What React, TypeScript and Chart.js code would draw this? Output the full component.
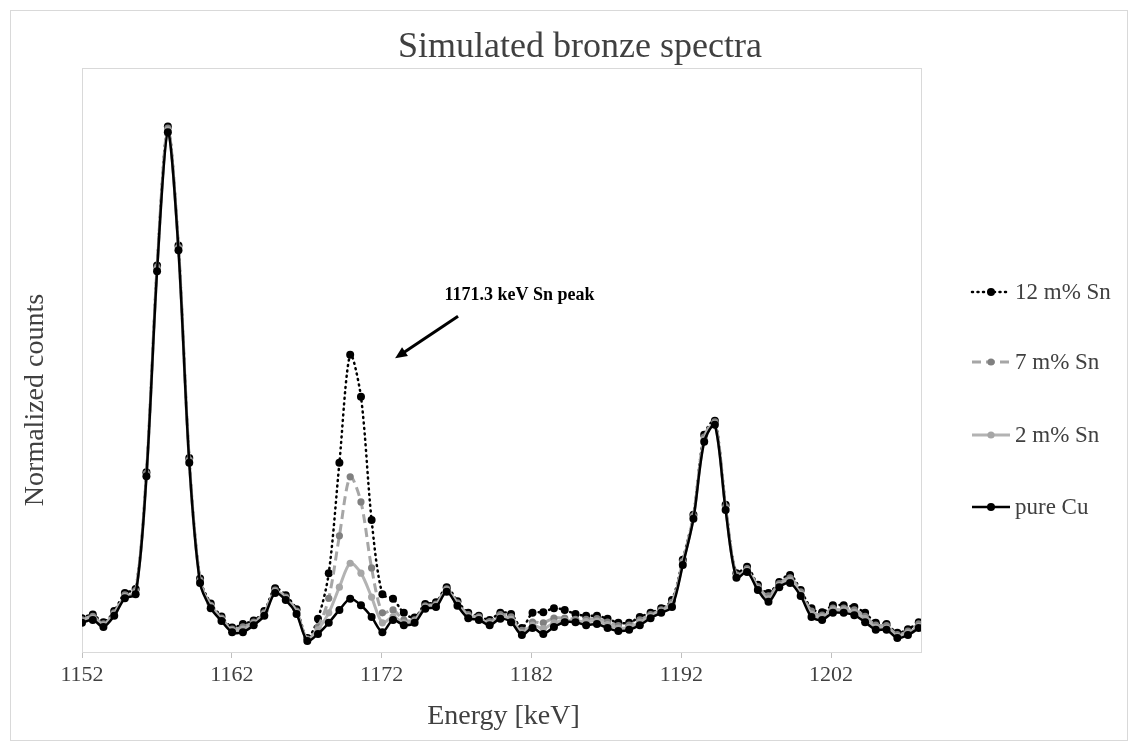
import React, { useEffect, useRef } from 'react';
import { Chart, registerables } from 'chart.js';

Chart.register(...registerables);

const ENERGY_KEV = [
  1152.0, 1152.72, 1153.43, 1154.15, 1154.86, 1155.58, 1156.3, 1157.01, 1157.73, 1158.44,
  1159.16, 1159.88, 1160.59, 1161.31, 1162.02, 1162.74, 1163.46, 1164.17, 1164.89, 1165.6,
  1166.32, 1167.04, 1167.75, 1168.47, 1169.18, 1169.9, 1170.62, 1171.33, 1172.05, 1172.76,
  1173.48, 1174.2, 1174.91, 1175.63, 1176.34, 1177.06, 1177.78, 1178.49, 1179.21, 1179.92,
  1180.64, 1181.36, 1182.07, 1182.79, 1183.5, 1184.22, 1184.94, 1185.65, 1186.37, 1187.08,
  1187.8, 1188.52, 1189.23, 1189.95, 1190.66, 1191.38, 1192.1, 1192.81, 1193.53, 1194.24,
  1194.96, 1195.68, 1196.39, 1197.11, 1197.82, 1198.54, 1199.26, 1199.97, 1200.69, 1201.4,
  1202.12, 1202.84, 1203.55, 1204.27, 1204.98, 1205.7, 1206.42, 1207.13, 1207.85,
];

const PURE_CU = [
  5.0, 5.5, 4.3, 6.2, 9.2, 9.9, 30.1, 65.2, 89.0, 68.8,
  32.4, 11.8, 7.5, 5.3, 3.4, 3.4, 4.6, 6.2, 10.1, 8.9,
  6.5, 1.9, 3.1, 5.0, 7.2, 9.1, 8.0, 6.0, 3.4, 5.5,
  4.6, 5.0, 7.4, 7.7, 10.3, 7.9, 5.8, 5.5, 4.6, 5.7,
  5.1, 2.9, 4.1, 3.1, 4.3, 5.1, 5.1, 4.6, 4.8, 4.1,
  3.6, 3.8, 4.6, 5.8, 6.7, 7.7, 14.9, 22.8, 36.0, 38.9,
  24.3, 12.7, 13.7, 10.6, 8.6, 11.1, 11.8, 9.6, 6.0, 5.5,
  6.7, 6.7, 6.3, 5.1, 3.8, 3.8, 2.4, 2.9, 4.1,
];

const SN_2 = [
  5.3, 5.8, 4.6, 6.5, 9.5, 10.2, 30.3, 65.6, 89.4, 69.1,
  32.7, 12.1, 7.8, 5.6, 3.7, 3.9, 4.9, 6.5, 10.4, 9.2,
  6.8, 2.1, 3.8, 6.7, 11.1, 15.2, 13.5, 9.4, 5.0, 6.0,
  5.0, 5.3, 7.7, 8.0, 10.6, 8.2, 6.1, 5.8, 4.9, 6.0,
  5.6, 3.3, 4.6, 4.0, 5.0, 5.4, 5.3, 5.2, 5.3, 4.7,
  4.1, 4.2, 5.1, 6.1, 7.0, 8.1, 15.2, 23.0, 36.4, 39.1,
  24.6, 12.9, 14.0, 10.9, 9.1, 11.4, 12.3, 9.9, 6.5, 6.0,
  7.2, 7.2, 6.8, 5.7, 4.2, 4.1, 2.7, 3.3, 4.4,
];

const SN_7 = [
  5.5, 6.1, 4.8, 6.7, 9.8, 10.5, 30.6, 65.9, 89.7, 69.3,
  32.9, 12.3, 8.0, 5.8, 3.9, 4.3, 5.1, 6.7, 10.6, 9.4,
  7.0, 2.2, 4.3, 9.2, 19.9, 30.0, 25.7, 14.4, 6.7, 7.2,
  5.5, 5.5, 7.9, 8.2, 10.8, 8.4, 6.4, 6.0, 5.2, 6.4,
  6.0, 3.7, 5.1, 5.0, 5.8, 5.8, 5.6, 5.6, 5.7, 5.1,
  4.5, 4.6, 5.5, 6.4, 7.2, 8.5, 15.5, 23.3, 36.8, 39.4,
  24.9, 13.2, 14.3, 11.2, 9.6, 11.7, 12.7, 10.3, 7.0, 6.3,
  7.5, 7.5, 7.2, 6.1, 4.6, 4.5, 3.0, 3.6, 4.8,
];

const SN_12 = [
  5.8, 6.4, 5.1, 7.0, 10.1, 10.8, 30.8, 66.2, 90.0, 69.6,
  33.2, 12.6, 8.3, 6.1, 4.2, 4.8, 5.4, 7.0, 10.9, 9.7,
  7.3, 2.4, 5.7, 13.5, 32.4, 50.9, 43.7, 22.6, 9.9, 9.1,
  6.7, 5.9, 8.2, 8.5, 11.1, 8.7, 6.7, 6.2, 5.5, 6.7,
  6.5, 4.1, 6.7, 6.8, 7.5, 7.2, 6.5, 6.2, 6.2, 5.7,
  5.0, 5.0, 6.0, 6.7, 7.5, 8.9, 15.8, 23.5, 37.2, 39.6,
  25.2, 13.5, 14.6, 11.5, 10.1, 12.0, 13.2, 10.6, 7.5, 6.8,
  8.0, 8.0, 7.7, 6.7, 5.0, 4.8, 3.3, 3.9, 5.1,
];

const X_TICKS = [1152, 1162, 1172, 1182, 1192, 1202];
const SERIES_LABELS = ['12 m% Sn', '7 m% Sn', '2 m% Sn', 'pure Cu'];
const TITLE = 'Simulated bronze spectra';
const X_TITLE = 'Energy [keV]';
const Y_TITLE = 'Normalized counts';
const ANNOTATION = '1171.3 keV Sn peak';

const FONT = '"Liberation Serif", "Times New Roman", serif';
const TEXT = '#404040';

type Style = {
  line: string;
  width: number;
  dash: number[];
  point: string;
  radius: number;
  cap: CanvasLineCap;
};

const STYLES: Record<string, Style> = {
  '12 m% Sn': { line: '#000000', width: 2.5, dash: [1, 4.5], point: '#000000', radius: 4, cap: 'round' },
  '7 m% Sn': { line: '#a6a6a6', width: 3, dash: [9, 5], point: '#808080', radius: 3.6, cap: 'butt' },
  '2 m% Sn': { line: '#b3b3b3', width: 3, dash: [], point: '#a6a6a6', radius: 3.6, cap: 'butt' },
  'pure Cu': { line: '#000000', width: 2.5, dash: [], point: '#000000', radius: 4, cap: 'butt' },
};

function makeDataset(label: string, values: number[]) {
  const s = STYLES[label];
  return {
    label,
    data: ENERGY_KEV.map((e, i) => ({ x: e, y: values[i] })),
    borderColor: s.line,
    borderWidth: s.width,
    borderDash: s.dash,
    borderCapStyle: s.cap,
    pointRadius: s.radius,
    pointBackgroundColor: s.point,
    pointBorderColor: s.point,
    pointBorderWidth: 0,
    tension: 0.3,
    fill: false,
  };
}

const decorPlugin = {
  id: 'decor',
  beforeDatasetsDraw(chart: any) {
    const { ctx, chartArea } = chart;
    ctx.save();
    ctx.strokeStyle = '#d9d9d9';
    ctx.lineWidth = 1;
    ctx.strokeRect(
      Math.round(chartArea.left) + 0.5,
      Math.round(chartArea.top) + 0.5,
      Math.round(chartArea.right - chartArea.left),
      Math.round(chartArea.bottom - chartArea.top)
    );
    ctx.restore();
  },
  afterDraw(chart: any) {
    const { ctx, chartArea } = chart;
    const xs = chart.scales.x;
    const ys = chart.scales.y;
    ctx.save();
    // outer border
    ctx.strokeStyle = '#d9d9d9';
    ctx.lineWidth = 1;
    ctx.strokeRect(10.5, 10.5, 1117, 730);

    // title
    ctx.fillStyle = TEXT;
    ctx.textAlign = 'center';
    ctx.textBaseline = 'alphabetic';
    ctx.font = `36px ${FONT}`;
    ctx.fillText(TITLE, 580, 57);

    // x title
    ctx.font = `28px ${FONT}`;
    ctx.textBaseline = 'middle';
    ctx.fillText(X_TITLE, (chartArea.left + chartArea.right) / 2 + 2, 717);

    // y title
    ctx.save();
    ctx.translate(36, 400);
    ctx.rotate(-Math.PI / 2);
    ctx.fillText(Y_TITLE, 0, 0);
    ctx.restore();

    // legend
    const legendY = [292, 362, 435, 507];
    SERIES_LABELS.forEach((label, i) => {
      const s = STYLES[label];
      const y = legendY[i];
      ctx.save();
      ctx.strokeStyle = s.line;
      ctx.lineWidth = s.width;
      ctx.setLineDash(s.dash);
      ctx.lineCap = s.cap;
      ctx.beginPath();
      ctx.moveTo(972, y);
      ctx.lineTo(1010, y);
      ctx.stroke();
      ctx.setLineDash([]);
      ctx.fillStyle = s.point;
      ctx.beginPath();
      ctx.arc(991, y, s.radius, 0, Math.PI * 2);
      ctx.fill();
      ctx.restore();
      ctx.fillStyle = TEXT;
      ctx.textAlign = 'left';
      ctx.textBaseline = 'middle';
      ctx.font = `23px ${FONT}`;
      ctx.fillText(label, 1015, y + 1);
    });

    // annotation
    ctx.fillStyle = '#000000';
    ctx.textAlign = 'center';
    ctx.textBaseline = 'middle';
    ctx.font = `bold 18px ${FONT}`;
    ctx.fillText(ANNOTATION, xs.getPixelForValue(1181.2), ys.getPixelForValue(61.1));

    const x1 = xs.getPixelForValue(1177.1);
    const y1 = ys.getPixelForValue(57.5);
    const x2 = xs.getPixelForValue(1172.9);
    const y2 = ys.getPixelForValue(50.3);
    const ang = Math.atan2(y2 - y1, x2 - x1);
    const head = 13;
    ctx.strokeStyle = '#000000';
    ctx.lineWidth = 3;
    ctx.beginPath();
    ctx.moveTo(x1, y1);
    ctx.lineTo(x2 - Math.cos(ang) * head * 0.8, y2 - Math.sin(ang) * head * 0.8);
    ctx.stroke();
    ctx.fillStyle = '#000000';
    ctx.beginPath();
    ctx.moveTo(x2, y2);
    ctx.lineTo(x2 - head * Math.cos(ang - 0.42), y2 - head * Math.sin(ang - 0.42));
    ctx.lineTo(x2 - head * Math.cos(ang + 0.42), y2 - head * Math.sin(ang + 0.42));
    ctx.closePath();
    ctx.fill();
    ctx.restore();
  },
};

export default function App() {
  const canvasRef = useRef<HTMLCanvasElement | null>(null);

  useEffect(() => {
    if (!canvasRef.current) return;
    const chart = new Chart(canvasRef.current, {
      type: 'line',
      data: {
        datasets: [
          makeDataset('pure Cu', PURE_CU),
          makeDataset('2 m% Sn', SN_2),
          makeDataset('7 m% Sn', SN_7),
          makeDataset('12 m% Sn', SN_12),
        ] as any,
      },
      options: {
        animation: false,
        responsive: false,
        maintainAspectRatio: false,
        layout: { padding: { top: 68, left: 82, right: 217, bottom: 0 } },
        plugins: {
          legend: { display: false },
          title: { display: false },
          tooltip: { enabled: false },
        },
        scales: {
          x: {
            type: 'linear',
            min: 1152,
            max: 1208,
            afterBuildTicks: (s: any) => {
              s.ticks = X_TICKS.map((v) => ({ value: v }));
            },
            afterFit: (s: any) => {
              s.height = 99;
            },
            grid: {
              drawOnChartArea: false,
              drawTicks: true,
              tickLength: 6,
              color: '#bfbfbf',
              lineWidth: 1,
            },
            border: { display: true, color: '#bfbfbf', width: 1 },
            ticks: {
              font: { family: FONT, size: 22 },
              color: TEXT,
              padding: 4,
              maxRotation: 0,
              autoSkip: false,
              callback: (v: any) => String(v),
            },
          },
          y: { display: false, min: 0, max: 100 },
        },
      } as any,
      plugins: [decorPlugin],
    });
    return () => chart.destroy();
  }, []);

  return (
    <div style={{ position: 'absolute', left: 0, top: 0, width: 1138, height: 751, background: '#fff' }}>
      <canvas ref={canvasRef} width={1138} height={751} style={{ display: 'block' }} />
    </div>
  );
}
